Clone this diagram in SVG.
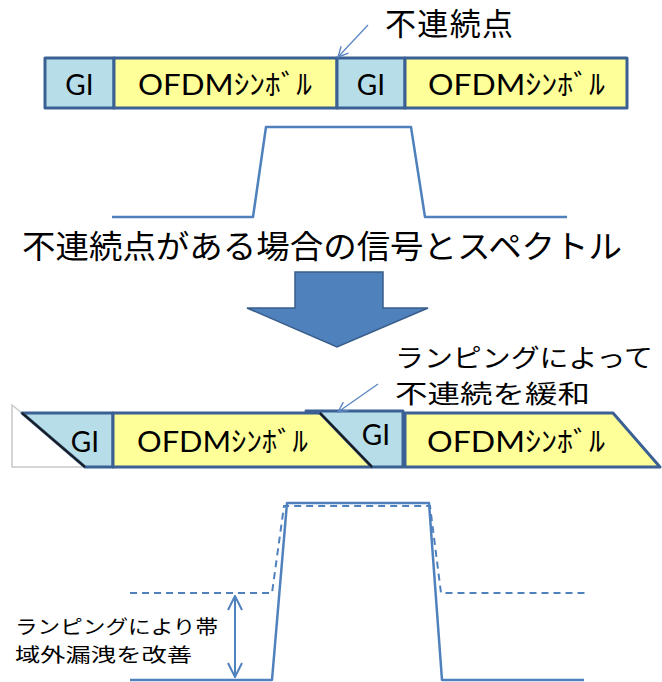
<svg xmlns="http://www.w3.org/2000/svg" width="662" height="682" viewBox="0 0 662 682">
<defs>
<style>
.gi{fill:#B7DDE8;stroke:#3B6093;stroke-width:3;stroke-linejoin:round}
.of{fill:#FFFF99;stroke:#3B6093;stroke-width:3;stroke-linejoin:round}
.lat{font-family:Lato,"Liberation Sans","Noto Sans CJK JP",sans-serif;font-size:28px;fill:#000}
.jp{font-family:"Noto Sans CJK JP",sans-serif;fill:#000}
.sp{fill:none;stroke:#4F81BD;stroke-width:2.5;stroke-linejoin:round}
.dash{fill:none;stroke:#4F81BD;stroke-width:2;stroke-dasharray:7,5}
.ptr{fill:none;stroke:#5B86C2;stroke-width:1.3}
</style>
<marker id="ah" viewBox="0 0 12 12" refX="11" refY="6" markerWidth="12" markerHeight="12" markerUnits="userSpaceOnUse" orient="auto">
<path d="M1,1 L11,6 L1,11" fill="none" stroke="#5B86C2" stroke-width="1.4"/>
</marker>
<marker id="dh" viewBox="0 0 16 16" refX="15" refY="8" markerWidth="16" markerHeight="16" markerUnits="userSpaceOnUse" orient="auto-start-reverse">
<path d="M1,1 L15,8 L1,15" fill="none" stroke="#4F81BD" stroke-width="2"/>
</marker>
</defs>

<!-- top bar -->
<g id="top-gi1"><rect class="gi" x="45" y="58" width="69" height="50"/><text class="lat" x="79.5" y="95" text-anchor="middle">GI</text></g>
<g id="top-ofdm1"><rect class="of" x="114" y="58" width="223" height="50"/><text class="lat" x="138" y="95" textLength="174" lengthAdjust="spacingAndGlyphs">OFDMｼﾝﾎﾞﾙ</text></g>
<g id="top-gi2"><rect class="gi" x="337" y="58" width="68" height="50"/><text class="lat" x="371" y="95" text-anchor="middle">GI</text></g>
<g id="top-ofdm2"><rect class="of" x="405" y="58" width="222" height="50"/><text class="lat" x="428" y="95" textLength="177" lengthAdjust="spacingAndGlyphs">OFDMｼﾝﾎﾞﾙ</text></g>
<g id="label-discont"><text class="jp" x="385" y="35" font-size="31" textLength="128">不連続点</text></g>

<!-- spectrum 1 -->
<g id="spectrum1"><polyline class="sp" points="112,217 253,217 266,127 411,127 425,217 567,217"/></g>

<g id="title"><text class="jp" x="22" y="258" font-size="32" textLength="600" lengthAdjust="spacingAndGlyphs">不連続点がある場合の信号とスペクトル</text></g>

<!-- big arrow -->
<g id="big-arrow"><polygon points="295,272 383,272 383,308 428,308 337,347 247,308 295,308" fill="#4F81BD" stroke="#385D8A" stroke-width="1.5"/></g>

<!-- label 2 -->
<g id="label-ramp"><text class="jp" x="395" y="367" font-size="25" textLength="258" lengthAdjust="spacingAndGlyphs">ランピングによって</text><text class="jp" x="395" y="403" font-size="25" textLength="195" lengthAdjust="spacingAndGlyphs">不連続を緩和</text></g>

<!-- bottom bar -->
<g id="bot-left"><polyline points="22,413 12,405 12,467 85,467" fill="none" stroke="#C8C8C8" stroke-width="1.5"/></g>
<g id="bot-gi1"><polygon class="gi" points="22,413 113,413 113,467 85,467"/><line x1="22" y1="413" x2="85" y2="467" stroke="#1a1a1a" stroke-width="2"/><text class="lat" x="85" y="452" text-anchor="middle">GI</text></g>
<g id="bot-ofdm1"><polygon class="of" points="113,413 320,413 372,467 113,467"/><text class="lat" x="137" y="452" textLength="171" lengthAdjust="spacingAndGlyphs">OFDMｼﾝﾎﾞﾙ</text></g>
<g id="bot-gi2"><polygon class="gi" points="306,411 403,411 403,467 372,467 320,413"/><line x1="320" y1="413" x2="372" y2="467" stroke="#1a1a1a" stroke-width="2"/><text class="lat" x="376" y="445" text-anchor="middle">GI</text></g>
<g id="bot-ofdm2"><polygon class="of" points="405,413 613,413 660,467 405,467"/><text class="lat" x="427" y="452" textLength="178" lengthAdjust="spacingAndGlyphs">OFDMｼﾝﾎﾞﾙ</text></g>

<!-- spectrum 2 -->
<g id="spectrum2">
<polyline class="dash" points="130,593 272,593 284,506 430,506 441,593 586,593"/>
<polyline class="sp" points="130,680 272,680 287,503 429,503 442,680 584,680"/>
</g>

<g id="label-improve"><text class="jp" x="15" y="634" font-size="19" textLength="203" lengthAdjust="spacingAndGlyphs">ランピングにより帯</text><text class="jp" x="15" y="662" font-size="19" textLength="177" lengthAdjust="spacingAndGlyphs">域外漏洩を改善</text></g>

<!-- connectors -->
<g id="connectors">
<line class="ptr" x1="368" y1="25" x2="338" y2="57" marker-end="url(#ah)"/>
<line class="ptr" x1="378" y1="384" x2="338" y2="412" marker-end="url(#ah)"/>
<line x1="235" y1="596" x2="235" y2="677" stroke="#4F81BD" stroke-width="2" marker-start="url(#dh)" marker-end="url(#dh)"/>
</g>
</svg>
